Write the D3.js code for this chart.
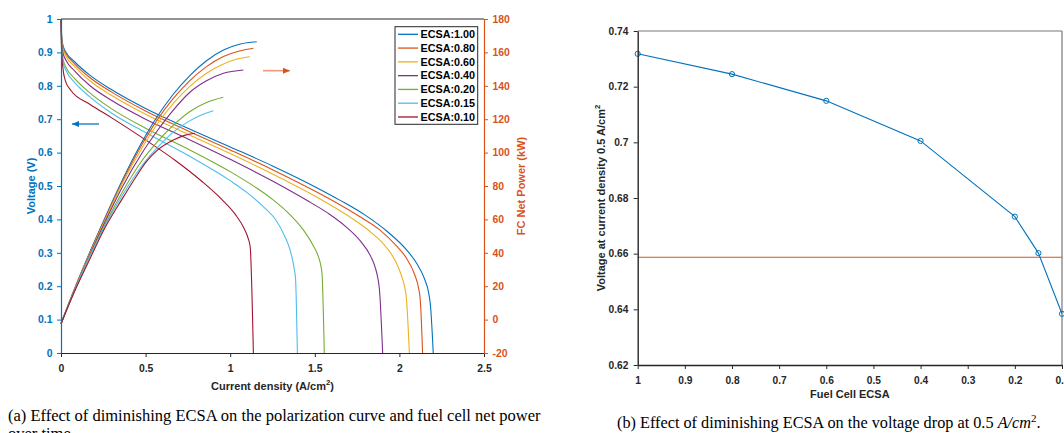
<!DOCTYPE html>
<html><head><meta charset="utf-8">
<script src="https://cdn.jsdelivr.net/npm/d3@7"></script>
<style>
body{margin:0;background:#fff;overflow:hidden}
svg{display:block}
.sans{font-family:"Liberation Sans",Arial,Helvetica,sans-serif;font-weight:bold}
.serif{font-family:"Liberation Serif","Times New Roman",serif}
</style>
</head><body>
<svg id="c" width="1064" height="433"></svg>
<script>
// ---------------- DATA ----------------
const ecsaLabels = ["ECSA:1.00","ECSA:0.80","ECSA:0.60","ECSA:0.40","ECSA:0.20","ECSA:0.15","ECSA:0.10"];
const seriesColors = ["#0072BD","#D95319","#EDB120","#7E2F8E","#77AC30","#4DBEEE","#A2142F"];

// Polarization curves [current density A/cm2, voltage V]
const pol100 = [[0,1.0],[0.004,0.95],[0.012,0.92],[0.03,0.9],[0.08,0.872],[0.17,0.832],[0.3,0.788],[0.5,0.732],[0.75,0.673],[1.0,0.617],[1.25,0.56],[1.5,0.498],[1.65,0.457],[1.8,0.412],[1.93,0.363],[2.04,0.31],[2.1,0.27],[2.15,0.22],[2.173,0.18],[2.184,0.14],[2.2,0]];
const pol080 = [[0,1.0],[0.004,0.945],[0.012,0.915],[0.03,0.895],[0.08,0.866],[0.17,0.825],[0.3,0.781],[0.5,0.7245],[0.75,0.665],[1.0,0.608],[1.25,0.549],[1.5,0.485],[1.62,0.452],[1.76,0.41],[1.88,0.37],[1.98,0.322],[2.04,0.285],[2.09,0.235],[2.113,0.195],[2.124,0.155],[2.137,0]];
const pol060 = [[0,1.0],[0.004,0.94],[0.012,0.91],[0.03,0.888],[0.08,0.858],[0.17,0.815],[0.3,0.771],[0.5,0.7147],[0.75,0.655],[1.0,0.597],[1.25,0.536],[1.5,0.47],[1.6,0.441],[1.72,0.403],[1.83,0.362],[1.92,0.318],[1.98,0.272],[2.01,0.235],[2.03,0.2],[2.041,0.165],[2.059,0]];
const pol040 = [[0,1.0],[0.004,0.93],[0.012,0.898],[0.03,0.876],[0.08,0.845],[0.17,0.801],[0.3,0.756],[0.5,0.700],[0.75,0.641],[1.0,0.580],[1.25,0.515],[1.45,0.458],[1.58,0.418],[1.68,0.38],[1.77,0.335],[1.83,0.29],[1.858,0.255],[1.874,0.22],[1.882,0.19],[1.901,0]];
const pol020 = [[0,1.0],[0.004,0.915],[0.012,0.88],[0.03,0.855],[0.08,0.822],[0.17,0.779],[0.3,0.731],[0.5,0.673],[0.75,0.611],[1.0,0.543],[1.15,0.496],[1.25,0.46],[1.35,0.416],[1.43,0.37],[1.49,0.322],[1.52,0.29],[1.535,0.263],[1.543,0.235],[1.556,0]];
const pol015 = [[0,1.0],[0.004,0.905],[0.012,0.87],[0.03,0.845],[0.08,0.81],[0.17,0.767],[0.3,0.718],[0.5,0.660],[0.75,0.592],[1.0,0.516],[1.1,0.48],[1.2,0.436],[1.27,0.398],[1.32,0.352],[1.35,0.315],[1.368,0.28],[1.379,0.25],[1.386,0.225],[1.397,0]];
const pol010 = [[0,1.0],[0.004,0.9],[0.012,0.85],[0.024,0.818],[0.06,0.785],[0.17,0.745],[0.3,0.704],[0.5,0.638],[0.68,0.575],[0.83,0.515],[0.95,0.46],[1.03,0.415],[1.08,0.375],[1.105,0.345],[1.118,0.318],[1.137,0]];

// FC net power curves [current density A/cm2, power kW]
const pow100 = [[0,-2.5],[0.08,18.5],[0.16,38],[0.26,61],[0.36,83],[0.477,106],[0.565,121],[0.66,134.5],[0.76,146],[0.86,155],[0.96,161.4],[1.06,165],[1.157,166.4]];
const pow080 = [[0,-2.5],[0.08,18.3],[0.16,37.5],[0.26,60.3],[0.36,82],[0.477,104.5],[0.565,119],[0.66,132],[0.76,143],[0.86,151.5],[0.96,157.5],[1.06,161],[1.137,162.5]];
const pow060 = [[0,-2.5],[0.08,18],[0.16,37],[0.26,59.5],[0.36,81],[0.477,102.5],[0.565,116.5],[0.66,129],[0.76,139.5],[0.86,147.5],[0.96,153],[1.04,156],[1.117,157.4]];
const pow040 = [[0,-2.5],[0.08,17.8],[0.16,36.5],[0.26,58.5],[0.36,79],[0.477,99.5],[0.565,112.5],[0.66,125],[0.76,136],[0.86,143],[0.96,147.5],[1.078,149.5]];
const pow020 = [[0,-2.5],[0.08,17.5],[0.16,36],[0.26,57],[0.36,76],[0.477,95],[0.565,106],[0.66,116],[0.76,124.5],[0.86,130],[0.959,133.1]];
const pow015 = [[0,-2.5],[0.08,17.3],[0.16,35.5],[0.26,56],[0.36,74],[0.477,92],[0.565,102.5],[0.66,112],[0.76,119],[0.84,123],[0.9,125.1]];
const pow010 = [[0,-2.5],[0.08,16.8],[0.16,34],[0.26,55],[0.36,72],[0.437,84.5],[0.5,94],[0.565,101],[0.664,107.5],[0.73,110.3],[0.792,111.6]];

// Chart (b)
const ecsaLevels = [1.0,0.8,0.6,0.4,0.2,0.15,0.1];
const voltageAt05 = [0.7318,0.7245,0.7149,0.7005,0.6733,0.6602,0.6384];
const thresholdVoltage = 0.6587;

// Ticks
const aXTicks = [0,0.5,1,1.5,2,2.5];
const aXTickLabels = ["0","0.5","1","1.5","2","2.5"];
const aYTicks = [0,0.1,0.2,0.3,0.4,0.5,0.6,0.7,0.8,0.9,1];
const aYTickLabels = ["0","0.1","0.2","0.3","0.4","0.5","0.6","0.7","0.8","0.9","1"];
const aY2Ticks = [-20,0,20,40,60,80,100,120,140,160,180];
const bXTicks = [1,0.9,0.8,0.7,0.6,0.5,0.4,0.3,0.2,0.1];
const bXTickLabels = ["1","0.9","0.8","0.7","0.6","0.5","0.4","0.3","0.2","0.1"];
const bYTicks = [0.62,0.64,0.66,0.68,0.70,0.72,0.74];
const bYTickLabels = ["0.62","0.64","0.66","0.68","0.7","0.72","0.74"];

const polSeries = [pol100,pol080,pol060,pol040,pol020,pol015,pol010];
const powSeries = [pow100,pow080,pow060,pow040,pow020,pow015,pow010];

// ---------------- DRAW ----------------
const svg = d3.select("#c");
svg.append("rect").attr("width",1064).attr("height",433).attr("fill","#fff");
const BLUE = "#0072BD", ORANGE = "#D95319", DARK = "#262626";

// ===== Chart (a) =====
const aL=61, aR=484, aT=19, aB=353;
const xA = d3.scaleLinear().domain([0,2.5]).range([aL,aR]);
const yA = d3.scaleLinear().domain([0,1]).range([aB,aT]);
const yP = d3.scaleLinear().domain([-20,180]).range([aB,aT]);
const gA = svg.append("g");

const lineV = d3.line().x(d=>xA(d[0])).y(d=>yA(d[1])).curve(d3.curveMonotoneX);
const lineP = d3.line().x(d=>xA(d[0])).y(d=>yP(d[1])).curve(d3.curveMonotoneX);

polSeries.forEach((s,i)=>gA.append("path").attr("d",lineV(s)).attr("fill","none")
  .attr("stroke",seriesColors[i]).attr("stroke-width",1.1));
powSeries.forEach((s,i)=>gA.append("path").attr("d",lineP(s)).attr("fill","none")
  .attr("stroke",seriesColors[i]).attr("stroke-width",1.1));

// box top
gA.append("line").attr("x1",aL).attr("x2",aR).attr("y1",aT).attr("y2",aT).attr("stroke",DARK).attr("stroke-width",1);

function styleAxis(g,color,fs){
  g.select(".domain").attr("stroke",color).attr("stroke-width",1.2);
  g.selectAll(".tick line").attr("stroke",color);
  g.selectAll(".tick text").attr("fill",color).attr("class","sans").style("font-size",fs+"px");
}
const axAx = gA.append("g").attr("transform",`translate(0,${aB})`)
  .call(d3.axisBottom(xA).tickValues(aXTicks).tickFormat((d,i)=>aXTickLabels[i]).tickSize(4).tickSizeOuter(0).tickPadding(8));
styleAxis(axAx,DARK,10.4);
const axAy = gA.append("g").attr("transform",`translate(${aL},0)`)
  .call(d3.axisLeft(yA).tickValues(aYTicks).tickFormat((d,i)=>aYTickLabels[i]).tickSize(4).tickSizeOuter(0).tickPadding(4.5));
styleAxis(axAy,BLUE,10.4);
const axAy2 = gA.append("g").attr("transform",`translate(${aR},0)`)
  .call(d3.axisRight(yP).tickValues(aY2Ticks).tickFormat(d=>String(d)).tickSize(4).tickSizeOuter(0).tickPadding(4.5));
styleAxis(axAy2,ORANGE,10.4);

// axis labels
gA.append("text").attr("class","sans").attr("transform",`translate(35,${(aT+aB)/2}) rotate(-90)`)
  .attr("text-anchor","middle").attr("fill",BLUE).style("font-size","11px").text("Voltage (V)");
gA.append("text").attr("class","sans").attr("transform",`translate(525,${(aT+aB)/2}) rotate(-90)`)
  .attr("text-anchor","middle").attr("fill",ORANGE).style("font-size","11px").text("FC Net Power (kW)");
const xl = gA.append("text").attr("class","sans").attr("x",(aL+aR)/2).attr("y",390)
  .attr("text-anchor","middle").attr("fill",DARK).style("font-size","11px");
xl.append("tspan").text("Current density (A/cm");
xl.append("tspan").attr("dy",-5).style("font-size","7.7px").text("2");
xl.append("tspan").attr("dy",5).text(")");

// arrows
function arrow(x1,x2,y,color,shaft){
  gA.append("line").attr("x1",x1).attr("x2",x2).attr("y1",y).attr("y2",y).attr("stroke",shaft).attr("stroke-width",1.6);
  const dir = Math.sign(x2-x1);
  gA.append("path").attr("d",`M${x2},${y} L${x2-dir*7},${y-3} L${x2-dir*7},${y+3} Z`).attr("fill",color);
}
arrow(99,72,124,BLUE,"#3b8fd0");
arrow(263,290,70.7,ORANGE,"#ee9a7c");

// legend
const lg = gA.append("g");
lg.append("rect").attr("x",395).attr("y",26.7).attr("width",82.7).attr("height",97.6)
  .attr("fill","#fff").attr("stroke",DARK).attr("stroke-width",1);
ecsaLabels.forEach((lab,i)=>{
  const y = 34.3 + i*13.78;
  lg.append("line").attr("x1",398).attr("x2",418).attr("y1",y).attr("y2",y).attr("stroke",seriesColors[i]).attr("stroke-width",1.3);
  lg.append("text").attr("class","sans").attr("x",420.5).attr("y",y+3.8).attr("fill","#000").style("font-size","10.8px").text(lab);
});

// ===== Chart (b) =====
const bL=637.7, bR=1062, bT=31, bB=365;
const xB = d3.scaleLinear().domain([1,0.1]).range([bL,bR]);
const yB = d3.scaleLinear().domain([0.62,0.74]).range([bB,bT]);
const gB = svg.append("g");
// box top/right
gB.append("line").attr("x1",bL).attr("x2",bR).attr("y1",bT).attr("y2",bT).attr("stroke","#777").attr("stroke-width",1);
gB.append("line").attr("x1",bR).attr("x2",bR).attr("y1",bT).attr("y2",bB).attr("stroke","#777").attr("stroke-width",1.2);
// threshold line
gB.append("line").attr("x1",bL).attr("x2",bR).attr("y1",yB(thresholdVoltage)).attr("y2",yB(thresholdVoltage))
  .attr("stroke",ORANGE).attr("stroke-width",1.1);
const ptsB = ecsaLevels.map((e,i)=>[e,voltageAt05[i]]);
gB.append("path").attr("d",d3.line().x(d=>xB(d[0])).y(d=>yB(d[1]))(ptsB))
  .attr("fill","none").attr("stroke",BLUE).attr("stroke-width",1.1);
gB.selectAll("circle.m").data(ptsB).enter().append("circle").attr("class","m")
  .attr("cx",d=>xB(d[0])).attr("cy",d=>yB(d[1])).attr("r",2.6)
  .attr("fill","none").attr("stroke",BLUE).attr("stroke-width",1);

const axBx = gB.append("g").attr("transform",`translate(0,${bB})`)
  .call(d3.axisBottom(xB).tickValues(bXTicks).tickFormat((d,i)=>bXTickLabels[i]).tickSize(4).tickSizeOuter(0).tickPadding(7.7));
styleAxis(axBx,DARK,10.2);
const axBy = gB.append("g").attr("transform",`translate(${bL},0)`)
  .call(d3.axisLeft(yB).tickValues(bYTicks).tickFormat((d,i)=>bYTickLabels[i]).tickSize(4).tickSizeOuter(0).tickPadding(5.4));
styleAxis(axBy,DARK,10.2);
axBx.select(".domain").attr("stroke-width",1.4);
axBy.select(".domain").attr("stroke-width",1.4);

const yl = gB.append("text").attr("class","sans").attr("transform",`translate(605,${(bT+bB)/2}) rotate(-90)`)
  .attr("text-anchor","middle").attr("fill",DARK).style("font-size","11px");
yl.append("tspan").text("Voltage at current density 0.5 A/cm");
yl.append("tspan").attr("dy",-5).style("font-size","7.7px").text("2");
gB.append("text").attr("class","sans").attr("x",(bL+bR)/2).attr("y",398).attr("text-anchor","middle")
  .attr("fill",DARK).style("font-size","11px").text("Fuel Cell ECSA");

// ===== Captions =====
const capA = svg.append("text").attr("class","serif").attr("x",8).attr("y",420.5).attr("fill","#000").style("font-size","16px")
  .text("(a) Effect of diminishing ECSA on the polarization curve and fuel cell net power");
const wA = capA.node().getComputedTextLength();
const fsA = 16*533/wA;
capA.style("font-size",fsA+"px");
svg.append("text").attr("class","serif").attr("x",8).attr("y",420.5+fsA*1.12).attr("fill","#000").style("font-size",fsA+"px").text("over time");

const capB = svg.append("text").attr("class","serif").attr("x",617).attr("y",428).attr("fill","#000").style("font-size","16px");
capB.append("tspan").text("(b) Effect of diminishing ECSA on the voltage drop at 0.5 ");
capB.append("tspan").style("font-style","italic").text("A/cm");
capB.append("tspan").attr("dy",-6).style("font-size","11px").text("2");
capB.append("tspan").attr("dy",6).text(".");
const wB = capB.node().getComputedTextLength();
capB.style("font-size",(16*424/wB)+"px");
</script>
</body></html>
